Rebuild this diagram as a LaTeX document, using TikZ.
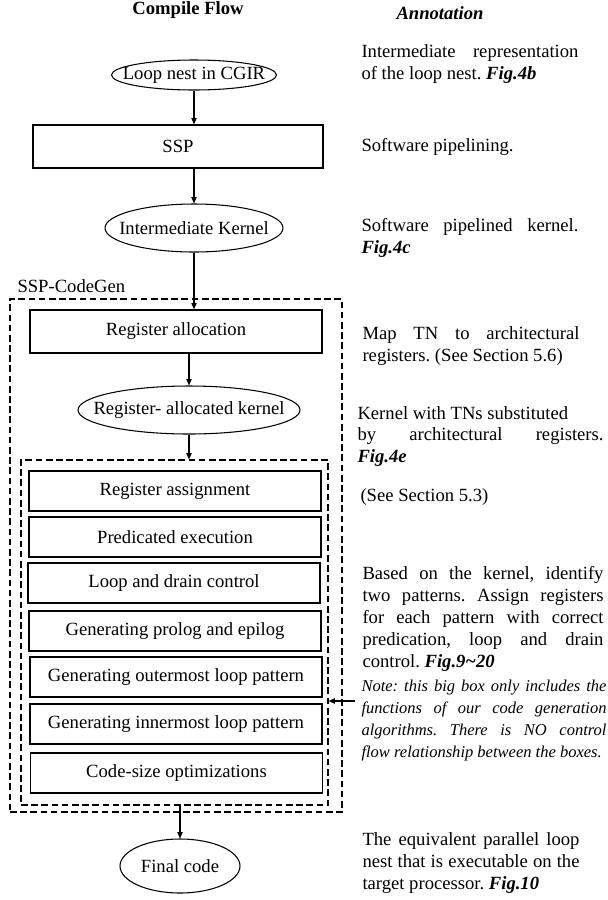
\documentclass[tikz,border=0pt]{standalone}
\usepackage{fontspec}
\setmainfont{Liberation Serif}
\usetikzlibrary{arrows.meta,shapes.geometric}
\tolerance=10000
\hyphenpenalty=10000
\frenchspacing

\begin{document}
\begin{tikzpicture}[line width=0.6pt, every node/.style={font=\fontsize{10.6}{12.5}\selectfont}]
	\tikzstyle{flowarrow} = [-{Triangle[length=3.6pt,width=3pt]}]
	\tikzstyle{stepbox} = [draw, rectangle, line width=0.75pt, minimum width=5.84cm, minimum height=0.8cm, inner sep=0pt]
	\tikzstyle{stateellipse} = [draw, ellipse, inner sep=0pt]
	\tikzstyle{groupbox} = [draw, rectangle, dash pattern=on 3.8pt off 2pt, inner sep=0pt]
	\tikzstyle{annot} = [anchor=west, inner sep=0pt, align=justify, text width=4.34cm]
	
	\useasboundingbox (0,0) rectangle (12.16,-18);
	
	\node (T1) at (3.76,-0.2) {\textbf{Compile Flow}};
	\node (T2) at (8.8,-0.26) {\textbf{\textit{Annotation}}};
	
	% compile flow
	\node[stateellipse, minimum width=3.3cm, minimum height=0.6cm] (cgir) at (3.88,-1.5) {\makebox[0pt]{Loop nest in CGIR}};
	\node[stepbox, minimum width=5.8cm, minimum height=0.86cm] (ssp) at (3.56,-2.93) {SSP};
	\node[stateellipse, minimum width=3.56cm, minimum height=0.96cm] (kernel) at (3.88,-4.56) {\makebox[0pt]{Intermediate Kernel}};
	
	\node[anchor=west, inner sep=0pt] (codegen) at (0.34,-5.72) {SSP-CodeGen};
	\node[groupbox, minimum width=6.64cm, minimum height=10.26cm] (outer) at (3.52,-11.11) {};
	\node[stepbox, minimum height=0.86cm] (regalloc) at (3.52,-6.63) {Register allocation};
	\node[stateellipse, minimum width=4.44cm, minimum height=0.96cm] (allocated) at (3.78,-8.2) {\makebox[0pt]{Register- allocated kernel}};
	
	\node[groupbox, minimum width=6.14cm, minimum height=6.9cm] (inner) at (3.49,-12.65) {};
	\node[stepbox] (assign) at (3.5,-9.82) {Register assignment};
	\node[stepbox] (predic) at (3.5,-10.74) {Predicated execution};
	\node[stepbox] (drain) at (3.48,-11.66) {Loop and drain control};
	\node[stepbox] (prolog) at (3.5,-12.62) {Generating prolog and epilog};
	\node[stepbox] (outermost) at (3.52,-13.54) {Generating outermost loop pattern};
	\node[stepbox] (innermost) at (3.52,-14.48) {Generating innermost loop pattern};
	\node[stepbox] (codesize) at (3.53,-15.46) {Code-size optimizations};
	
	\node[stateellipse, minimum width=2.4cm, minimum height=1.08cm] (final) at (3.6,-17.32) {\makebox[0pt]{Final code}};
	
	% annotations
	\node[annot] (A1) at (7.22,-1.28) {Intermediate representation\linebreak of the loop nest. \textbf{\textit{Fig.4b}}};
	\node[annot] (A2) at (7.22,-2.94) {Software pipelining.};
	\node[annot] (A3) at (7.22,-4.75) {Software pipelined kernel.\linebreak \textbf{\textit{Fig.4c}}};
	\node[annot] (A4) at (7.24,-6.93) {Map TN to architectural\linebreak registers. (See Section 5.6)};
	\node[annot, text width=4.92cm] (A5) at (7.14,-8.73) {Kernel with TNs substituted\\ by architectural registers.\linebreak \textbf{\textit{Fig.4e}}};
	\node[annot] (A6) at (7.2,-9.94) {(See Section 5.3)};
	\node[annot, text width=4.82cm] (A7) at (7.24,-12.37) {Based on the kernel, identify\linebreak two patterns. Assign registers\linebreak for each pattern with correct\linebreak predication, loop and drain\linebreak control. \textbf{\textit{Fig.9\textasciitilde 20}}};
	\node[annot, text width=4.9cm, font=\fontsize{9.4}{12.35}\selectfont\itshape] (A8) at (7.22,-14.41) {Note: this big box only includes the\linebreak functions of our code generation\linebreak algorithms. There is NO control\linebreak flow relationship between the boxes.};
	\node[annot] (A9) at (7.24,-17.26) {The equivalent parallel loop\linebreak nest that is executable on the\linebreak target processor. \textbf{\textit{Fig.10}}};
	
	\coordinate (notetail) at (7.1,-14.02);
	
	\draw[flowarrow] (cgir.south) -- (cgir.south |- ssp.north);
	\draw[flowarrow] (kernel.north |- ssp.south) -- (kernel.north);
	\draw[flowarrow] (kernel.south) -- (kernel.south |- regalloc.north);
	\draw[flowarrow] (allocated.north |- regalloc.south) -- (allocated.north);
	\draw[flowarrow] (allocated.south) -- (allocated.south |- inner.north);
	\draw[flowarrow] (final.north |- inner.south) -- (final.north);
	\draw[flowarrow] (notetail) -- (notetail -| inner.east);
	
\end{tikzpicture}
\end{document}
